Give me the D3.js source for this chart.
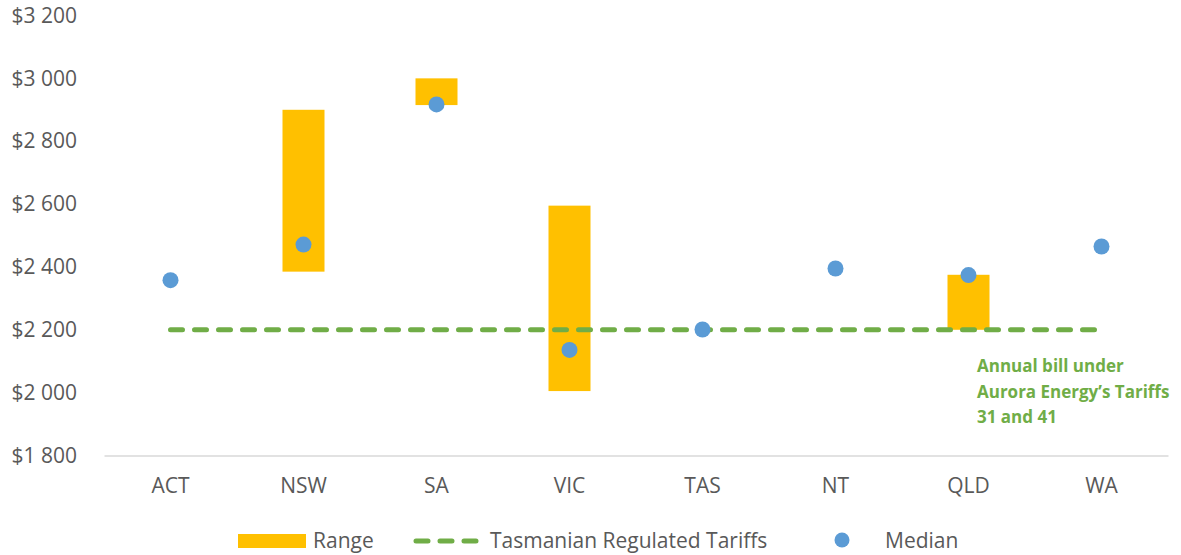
<!DOCTYPE html>
<html>
<head>
<meta charset="utf-8">
<script src="https://cdn.jsdelivr.net/npm/d3@7"></script>
<style>
  body { margin: 0; background: #fff; }
  text { font-family: "Open Sans", sans-serif; fill: #595959; }
</style>
</head>
<body>
<svg></svg>
<script>
// Chart data
const categories = ["ACT", "NSW", "SA", "VIC", "TAS", "NT", "QLD", "WA"];
const rangeLow  = [null, 2385, 2915, 2005, null, null, 2200, null];
const rangeHigh = [null, 2900, 3000, 2595, null, null, 2375, null];
const median    = [2358, 2471, 2917, 2136, 2201, 2395, 2374, 2465];
const tariff    = [2200, 2200, 2200, 2200, 2200, 2200, 2200, 2200];
const yTicks    = [1800, 2000, 2200, 2400, 2600, 2800, 3000, 3200];
const noteLines = ["Annual bill under", "Aurora Energy\u2019s Tariffs", "31 and 41"];

const width = 1181;
const height = 555;
const fontSize = "21px";

const svg = d3.select("svg")
    .attr("width", width)
    .attr("height", height);

const x = d3.scaleBand()
    .domain(categories)
    .range([104, 1168]);

const y = d3.scaleLinear()
    .domain([1800, 3200])
    .range([455.5, 15.5]);

const locale = d3.formatLocale({ decimal: ".", thousands: " ", grouping: [3], currency: ["$", ""] });
const fmt = locale.format("$,");

// y axis labels (no line)
const yAxis = svg.append("g")
    .attr("transform", "translate(77,0)")
    .call(d3.axisLeft(y).tickValues(yTicks).tickSize(0).tickPadding(0).tickFormat(fmt));
yAxis.select(".domain").remove();
yAxis.selectAll("text")
    .style("font-size", fontSize)
    .attr("fill", "#595959")
    .style("font-family", "'Open Sans', sans-serif");

// x axis
const xAxis = svg.append("g")
    .attr("transform", "translate(0," + y(1800) + ")")
    .call(d3.axisBottom(x).tickSize(0).tickPadding(23));
xAxis.select(".domain").attr("stroke", "#d9d9d9").attr("stroke-width", 1.5);
xAxis.selectAll("text")
    .style("font-size", fontSize)
    .attr("fill", "#595959")
    .style("font-family", "'Open Sans', sans-serif");

const barW = 42;
const cx = d => x(d) + x.bandwidth() / 2;

// range bars
svg.selectAll("rect.range")
    .data(categories.filter((c, i) => rangeLow[i] != null))
    .enter().append("rect")
    .attr("class", "range")
    .attr("x", d => cx(d) - barW / 2)
    .attr("width", barW)
    .attr("y", d => y(rangeHigh[categories.indexOf(d)]))
    .attr("height", d => {
        const i = categories.indexOf(d);
        return y(rangeLow[i]) - y(rangeHigh[i]);
    })
    .attr("fill", "#ffc000");

// tariff dashed line
const line = d3.line()
    .x((d, i) => cx(categories[i]))
    .y(d => y(d));

svg.append("path")
    .datum(tariff)
    .attr("d", line)
    .attr("fill", "none")
    .attr("stroke", "#70ad47")
    .attr("stroke-width", 5)
    .attr("stroke-linecap", "round")
    .attr("stroke-dasharray", "12,12");

// median dots
svg.selectAll("circle.median")
    .data(median)
    .enter().append("circle")
    .attr("class", "median")
    .attr("cx", (d, i) => cx(categories[i]))
    .attr("cy", d => y(d))
    .attr("r", 8)
    .attr("fill", "#5b9bd5");

// annotation
svg.append("text")
    .attr("x", 977)
    .attr("y", 372)
    .style("font-size", "17px")
    .style("font-weight", "bold")
    .style("fill", "#70ad47")
    .selectAll("tspan")
    .data(noteLines)
    .enter().append("tspan")
    .attr("x", 977)
    .attr("dy", (d, i) => i === 0 ? 0 : 25.5)
    .text(d => d);

// legend
const legend = svg.append("g");
legend.append("rect")
    .attr("x", 238).attr("y", 534)
    .attr("width", 68).attr("height", 14)
    .attr("fill", "#ffc000");
legend.append("text")
    .attr("x", 313).attr("y", 548)
    .style("font-size", fontSize)
    .text("Range");

legend.append("line")
    .attr("x1", 416).attr("x2", 476)
    .attr("y1", 541).attr("y2", 541)
    .attr("stroke", "#70ad47")
    .attr("stroke-width", 5)
    .attr("stroke-linecap", "round")
    .attr("stroke-dasharray", "12,12");
legend.append("text")
    .attr("x", 490).attr("y", 548)
    .style("font-size", fontSize)
    .text("Tasmanian Regulated Tariffs");

legend.append("circle")
    .attr("cx", 842).attr("cy", 540)
    .attr("r", 7.5)
    .attr("fill", "#5b9bd5");
legend.append("text")
    .attr("x", 885).attr("y", 548)
    .style("font-size", fontSize)
    .text("Median");
</script>
</body>
</html>
